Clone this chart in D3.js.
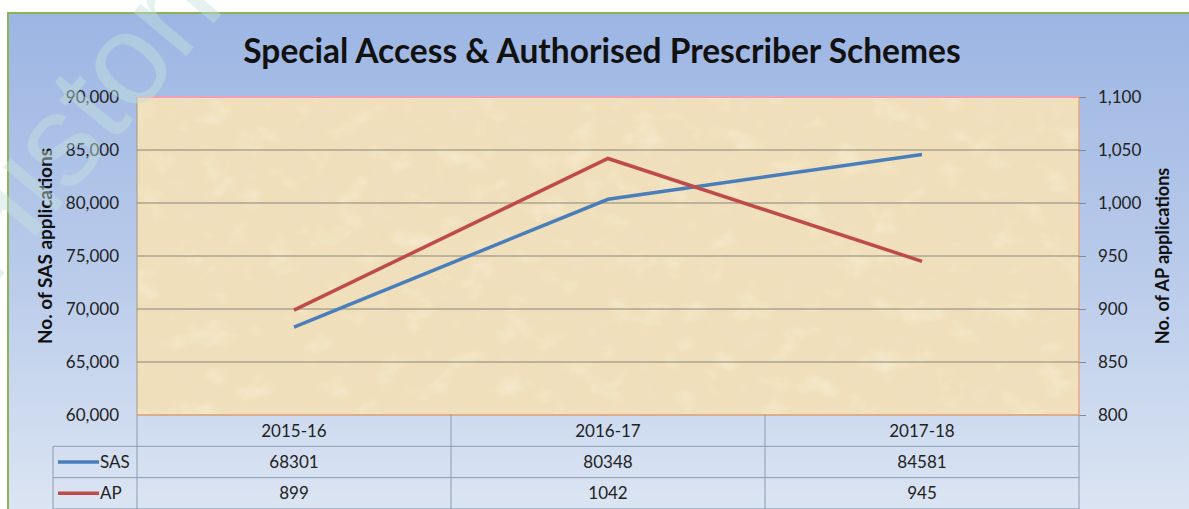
<!DOCTYPE html>
<html>
<head>
<meta charset="utf-8">
<style>
    body { margin: 0; background: #fff; }
    svg { display: block; font-family: Lato, 'Open Sans', sans-serif; }
</style>
</head>
<body>
<svg width="1189" height="509"></svg>
<script src="https://d3js.org/d3.v7.min.js"></script>
<script>
    // data
    let years = ["2015-16", "2016-17", "2017-18"];
    let sasValues = [68301, 80348, 84581];
    let apValues = [899, 1042, 945];
    let leftTicks = [60000, 65000, 70000, 75000, 80000, 85000, 90000];
    let rightTicks = [800, 850, 900, 950, 1000, 1050, 1100];

    let svg = d3.select("svg");
    let plot = { left: 137, right: 1079, top: 97, bottom: 415 };

    let defs = svg.append("defs");
    let grad = defs.append("linearGradient").attr("id", "bg").attr("x1", 0).attr("y1", 0).attr("x2", 0).attr("y2", 1);
    grad.append("stop").attr("offset", "0%").attr("stop-color", "#9cb5e3");
    grad.append("stop").attr("offset", "55%").attr("stop-color", "#bccdeb");
    grad.append("stop").attr("offset", "100%").attr("stop-color", "#dde6f3");

    // parchment look for the plot area
    let filt = defs.append("filter").attr("id", "paper").attr("x", 0).attr("y", 0).attr("width", 1).attr("height", 1);
    filt.append("feTurbulence").attr("type", "fractalNoise").attr("baseFrequency", "0.03 0.04").attr("numOctaves", 5).attr("seed", 7).attr("result", "noise");
    filt.append("feColorMatrix").attr("in", "noise").attr("type", "matrix")
        .attr("values", "0 0 0 0 0.87  0 0 0 0 0.75  0 0 0 0 0.55  1.5 0 0 0 -0.65").attr("result", "dark");
    filt.append("feColorMatrix").attr("in", "noise").attr("type", "matrix")
        .attr("values", "0 0 0 0 0.97  0 0 0 0 0.92  0 0 0 0 0.80  -1.0 0 0 0 0.45").attr("result", "light");
    filt.append("feMerge").call(m => {
        m.append("feMergeNode").attr("in", "SourceGraphic");
        m.append("feMergeNode").attr("in", "dark");
        m.append("feMergeNode").attr("in", "light");
    });
    filt.append("feComposite").attr("in2", "SourceGraphic").attr("operator", "in");

    // chart background
    svg.append("rect").attr("x", 8).attr("y", 13).attr("width", 1189).attr("height", 510)
        .attr("fill", "url(#bg)").attr("stroke", "#8db356").attr("stroke-width", 2);

    svg.append("text").attr("x", 602).attr("y", 63).attr("text-anchor", "middle")
        .attr("font-size", 33.5).attr("font-weight", "bold").attr("fill", "#111")
        .text("Special Access & Authorised Prescriber Schemes");

    let x = d3.scaleBand().domain(years).range([plot.left, plot.right]);
    let yL = d3.scaleLinear().domain([60000, 90000]).range([plot.bottom, plot.top]);
    let yR = d3.scaleLinear().domain([800, 1100]).range([plot.bottom, plot.top]);

    svg.append("rect").attr("x", plot.left).attr("y", plot.top)
        .attr("width", plot.right - plot.left).attr("height", plot.bottom - plot.top)
        .attr("fill", "#f0dfb9").attr("filter", "url(#paper)");
    svg.append("line").attr("x1", plot.left).attr("x2", plot.right).attr("y1", plot.top).attr("y2", plot.top)
        .attr("stroke", "#f0a0b8").attr("stroke-width", 2);
    svg.append("line").attr("x1", plot.right).attr("x2", plot.right).attr("y1", plot.top).attr("y2", plot.bottom)
        .attr("stroke", "#e7a882").attr("stroke-width", 1.5);
    svg.append("line").attr("x1", plot.left).attr("x2", plot.left).attr("y1", plot.top).attr("y2", plot.bottom)
        .attr("stroke", "#a89880").attr("stroke-width", 1);
    svg.append("line").attr("x1", plot.left).attr("x2", plot.right).attr("y1", plot.bottom).attr("y2", plot.bottom)
        .attr("stroke", "#d9a070").attr("stroke-width", 1.5);

    // gridlines
    svg.append("g").selectAll("line").data(leftTicks.slice(1, -1)).join("line")
        .attr("x1", plot.left).attr("x2", plot.right)
        .attr("y1", d => yL(d)).attr("y2", d => yL(d))
        .attr("stroke", "#8a877c").attr("stroke-width", 1);

    // left axis labels
    let fmt = d3.format(",");
    let leftAxis = svg.append("g").attr("transform", `translate(${plot.left},0)`)
        .call(d3.axisLeft(yL).tickValues(leftTicks).tickSize(0).tickPadding(18).tickFormat(fmt));
    leftAxis.select(".domain").remove();
    leftAxis.selectAll("text").attr("font-size", 17).attr("fill", "#222").attr("font-family", "Lato, sans-serif");

    let rightAxis = svg.append("g").attr("transform", `translate(${plot.right},0)`)
        .call(d3.axisRight(yR).tickValues(rightTicks).tickSize(7).tickPadding(12).tickFormat(fmt));
    rightAxis.select(".domain").remove();
    rightAxis.selectAll("line").attr("stroke", "#8a8a8a");
    rightAxis.selectAll("text").attr("font-size", 17).attr("fill", "#222").attr("font-family", "Lato, sans-serif");

    svg.append("text").attr("transform", "translate(52,246) rotate(-90)").attr("text-anchor", "middle")
        .attr("font-size", 19).attr("font-weight", "bold").attr("fill", "#111").text("No. of  SAS applications");
    svg.append("text").attr("transform", "translate(1169,256) rotate(-90)").attr("text-anchor", "middle")
        .attr("font-size", 18).attr("font-weight", "bold").attr("fill", "#111").text("No. of AP applications");

    // lines
    let cx = d => x(d) + x.bandwidth() / 2;
    let sasLine = d3.line().x((d, i) => cx(years[i])).y(d => yL(d));
    let apLine = d3.line().x((d, i) => cx(years[i])).y(d => yR(d));
    svg.append("path").datum(sasValues).attr("d", sasLine).attr("fill", "none")
        .attr("stroke", "#4a7ebb").attr("stroke-width", 3.5);
    svg.append("path").datum(apValues).attr("d", apLine).attr("fill", "none")
        .attr("stroke", "#be4b48").attr("stroke-width", 3.5);

    // data table
    let rowH = 31.3;
    let table = svg.append("g").attr("stroke", "#8c9bb0").attr("stroke-width", 1);
    years.concat(["end"]).forEach((d, i) => {
        let xx = plot.left + i * x.bandwidth();
        table.append("line").attr("x1", xx).attr("x2", xx).attr("y1", plot.bottom).attr("y2", 509);
    });
    [1, 2, 3].forEach(r => {
        table.append("line").attr("x1", 53).attr("x2", plot.right)
            .attr("y1", plot.bottom + r * rowH).attr("y2", plot.bottom + r * rowH);
    });
    table.append("line").attr("x1", 53).attr("x2", 53).attr("y1", plot.bottom + rowH).attr("y2", 509);

    let tText = svg.append("g").attr("font-size", 17).attr("fill", "#222").attr("text-anchor", "middle");
    years.forEach((d, i) => {
        tText.append("text").attr("x", cx(d)).attr("y", plot.bottom + rowH / 2 + 6).text(d);
        tText.append("text").attr("x", cx(d)).attr("y", plot.bottom + rowH * 1.5 + 6).text(sasValues[i]);
        tText.append("text").attr("x", cx(d)).attr("y", plot.bottom + rowH * 2.5 + 6).text(apValues[i]);
    });
    let series = [["SAS", "#4a7ebb"], ["AP", "#be4b48"]];
    series.forEach((s, i) => {
        let yy = plot.bottom + rowH * (1.5 + i);
        svg.append("line").attr("x1", 58).attr("x2", 99).attr("y1", yy).attr("y2", yy)
            .attr("stroke", s[1]).attr("stroke-width", 3.5);
        svg.append("text").attr("x", 100).attr("y", yy + 6).attr("font-size", 17).attr("fill", "#222").text(s[0]);
    });

    // faint watermark
    svg.append("text").attr("transform", "translate(-10,290) rotate(-50)")
        .attr("font-size", 130).attr("font-family", "'Liberation Sans', sans-serif")
        .attr("fill", "#c4e2dc").attr("opacity", 0.45).text("Historic");
</script>
</body>
</html>
